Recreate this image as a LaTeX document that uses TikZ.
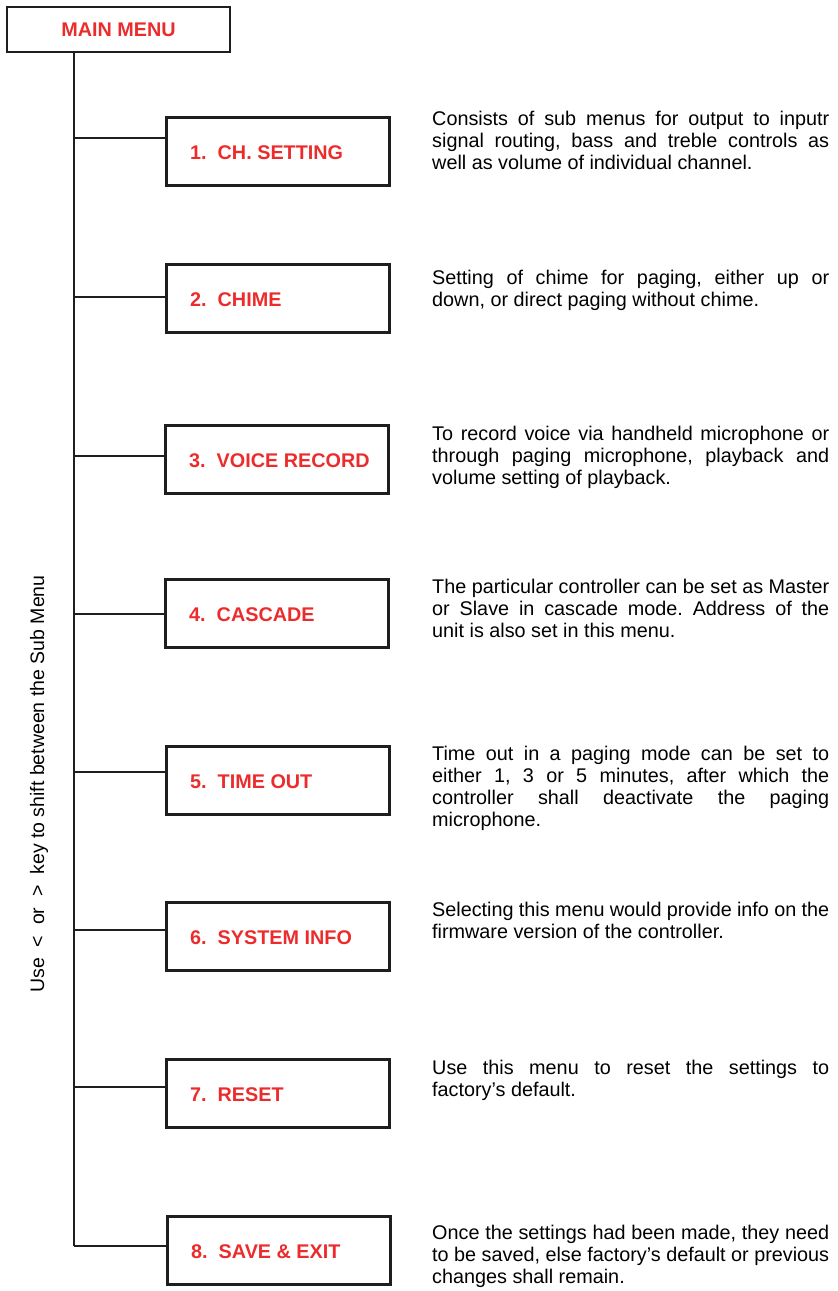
\documentclass[tikz,border=0pt]{standalone}
\usepackage{fontspec}
\setmainfont{Liberation Sans}
\usepackage{tikz}

\definecolor{menured}{RGB}{236,44,44}
\definecolor{linegray}{RGB}{30,30,30}

\tikzset{
  menubox/.style={draw=linegray, line width=2.5pt, anchor=north west,
    minimum width=223pt, minimum height=68pt, inner sep=0pt},
  menulabel/.style={anchor=base west, inner sep=0pt, text=menured,
    font=\fontsize{19.8}{22}\selectfont\bfseries},
  desc/.style={anchor=base west, inner sep=0pt, text width=397pt,
    align=justify, font=\fontsize{19.8}{22}\selectfont\frenchspacing},
  branch/.style={draw=linegray, line width=1.4pt},
}

\begin{document}
\begin{tikzpicture}[x=1pt, y=-1pt]
\useasboundingbox (0, 0) rectangle (838, 1291);

\node[draw=linegray, line width=2.5pt, minimum width=223pt, minimum height=45pt,
  inner sep=0pt, text=menured, font=\fontsize{19.8}{22}\selectfont\bfseries]
  (main_menu) at (118.5, 29.5) {MAIN MENU};

\coordinate (br_1) at (74, 138);
\coordinate (br_2) at (74, 297);
\coordinate (br_3) at (74, 456);
\coordinate (br_4) at (74, 614);
\coordinate (br_5) at (74, 772);
\coordinate (br_6) at (74, 930);
\coordinate (br_7) at (74, 1087);
\coordinate (br_8) at (74, 1246);

\draw[draw=linegray, line width=1.7pt] (main_menu.south -| br_1) -- (br_8);

\node[menubox] (sub_1) at (165, 116) {};
\node[menubox] (sub_2) at (165, 263) {};
\node[menubox] (sub_3) at (164, 424) {};
\node[menubox] (sub_4) at (164, 578) {};
\node[menubox] (sub_5) at (165, 745) {};
\node[menubox] (sub_6) at (165, 901) {};
\node[menubox] (sub_7) at (165, 1058) {};
\node[menubox] (sub_8) at (166, 1215) {};

\node[menulabel] (lbl_1) at ([shift={(25, 43)}]sub_1.north west) {1.\ \ CH. SETTING};
\node[menulabel] (lbl_2) at ([shift={(25, 43)}]sub_2.north west) {2.\ \ CHIME};
\node[menulabel] (lbl_3) at ([shift={(25, 43)}]sub_3.north west) {3.\ \ VOICE RECORD};
\node[menulabel] (lbl_4) at ([shift={(25, 43)}]sub_4.north west) {4.\ \ CASCADE};
\node[menulabel] (lbl_5) at ([shift={(25, 43)}]sub_5.north west) {5.\ \ TIME OUT};
\node[menulabel] (lbl_6) at ([shift={(25, 43)}]sub_6.north west) {6.\ \ SYSTEM INFO};
\node[menulabel] (lbl_7) at ([shift={(25, 43)}]sub_7.north west) {7.\ \ RESET};
\node[menulabel] (lbl_8) at ([shift={(25, 43)}]sub_8.north west) {8.\ \ SAVE \& EXIT};

\draw[branch] (br_1) -- (br_1 -| sub_1.west);
\draw[branch] (br_2) -- (br_2 -| sub_2.west);
\draw[branch] (br_3) -- (br_3 -| sub_3.west);
\draw[branch] (br_4) -- (br_4 -| sub_4.west);
\draw[branch] (br_5) -- (br_5 -| sub_5.west);
\draw[branch] (br_6) -- (br_6 -| sub_6.west);
\draw[branch] (br_7) -- (br_7 -| sub_7.west);
\draw[branch] (br_8) -- (br_8 -| sub_8.west);

\node[desc] (desc_1) at (432, 125)
  {Consists of sub menus for output to inputr\linebreak
   signal routing, bass and treble controls as\linebreak
   well as volume of individual channel.};
\node[desc] (desc_2) at (432, 284)
  {Setting of chime for paging, either up or\linebreak
   down, or direct paging without chime.};
\node[desc] (desc_3) at (432, 440)
  {To record voice via handheld microphone or\linebreak
   through paging microphone, playback and\linebreak
   volume setting of playback.};
\node[desc] (desc_4) at (432, 593)
  {The particular controller can be set as Master\linebreak
   or Slave in cascade mode. Address of the\linebreak
   unit is also set in this menu.};
\node[desc] (desc_5) at (432, 760)
  {Time out in a paging mode can be set to\linebreak
   either 1, 3 or 5 minutes, after which the\linebreak
   controller shall deactivate the paging\linebreak
   microphone.};
\node[desc] (desc_6) at (432, 916)
  {Selecting this menu would provide info on the\linebreak
   firmware version of the controller.};
\node[desc] (desc_7) at (432, 1074)
  {Use this menu to reset the settings to\linebreak
   factory’s default.};
\node[desc] (desc_8) at (432, 1239)
  {Once the settings had been made, they need\linebreak
   to be saved, else factory’s default or previous\linebreak
   changes shall remain.};

\node[rotate=90, anchor=base, inner sep=0pt, font=\fontsize{19.5}{22}\selectfont]
  (hint) at (44, 784) {Use\ \ <\ \ or\ \ >\ \ key to shift between the Sub Menu};
\end{tikzpicture}
\end{document}
